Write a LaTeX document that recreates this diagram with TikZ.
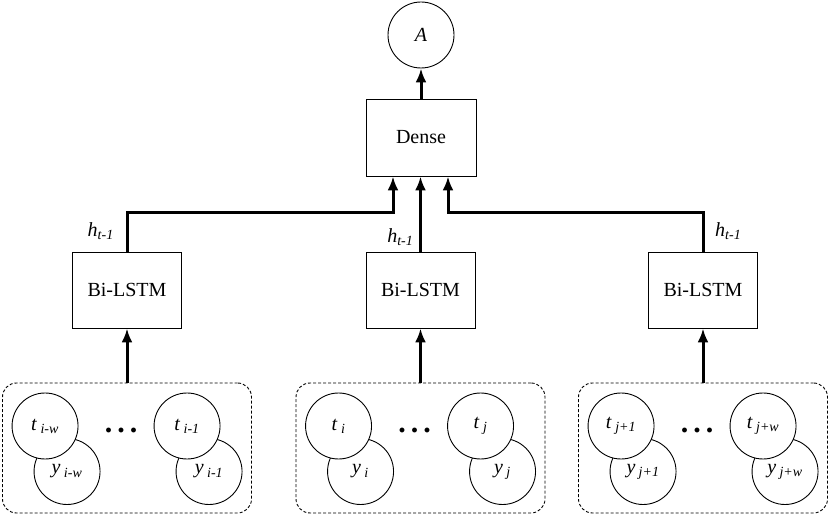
\documentclass[tikz,border=0pt]{standalone}
\usepackage{fontspec}
\setmainfont{Liberation Serif}
\usetikzlibrary{positioning, arrows.meta, calc}

\begin{document}
\begin{tikzpicture}[
            x=1pt, y=1pt,
            >={Latex[length=14pt, width=11pt]},
            unit/.style={circle, draw, line width=0.9pt, fill=white, minimum size=66pt, inner sep=0pt, font=\fontsize{20}{24}\selectfont},
            layer/.style={rectangle, draw, line width=0.9pt, minimum width=109pt, minimum height=76pt, font=\fontsize{20}{24}\selectfont},
            window/.style={rectangle, draw, line width=0.9pt, dash pattern=on 3pt off 2pt, rounded corners=14pt, minimum width=249pt, minimum height=130pt},
            conn/.style={->, line width=3pt},
            dots/.style={font=\fontsize{30}{30}\selectfont\bfseries, inner sep=0pt, anchor=base},
            hlabel/.style={font=\fontsize{20}{24}\selectfont\itshape, inner sep=0pt},
        ]
            \useasboundingbox (0,0) rectangle (831,515);

            % Draw the output node and the dense layer
            \node[unit] (A) at (421,480) {\textit{A}};
            \node[layer, minimum width=110pt, minimum height=77pt] (D) at (421,377.5) {Dense};
            \draw[conn] (D.north) -- (A.south);

            % Draw the input windows and the Bi-LSTM layers
            \foreach \name / \x in {1/127, 2/420.5, 3/703}
            {
                \node[window] (G-\name) at (\x,67) {};
                \node[layer] (L-\name) at (\x,225) {Bi-LSTM};
                \draw[conn] (G-\name.north) -- (L-\name.south);
            }

            % Draw the t/y units inside every window
            \foreach \name / \a / \b in {1/{i-w}/{i-1}, 2/i/j, 3/{j+1}/{j+w}}
            {
                \node[unit] (Y-\name-a) at ([shift={(65pt,-23.5pt)}]G-\name.west) {\textit{y}\,\textsubscript{\textit{\a}}};
                \node[unit] (T-\name-a) at ([shift={(43pt,22pt)}]G-\name.west) {\textit{t}\,\textsubscript{\textit{\a}}};
                \node[dots] (P-\name) at ([shift={(119pt,16pt)}]G-\name.west) {.\hspace{5pt}.\hspace{5pt}.};
                \node[unit] (Y-\name-b) at ([shift={(207pt,-23.5pt)}]G-\name.west) {\textit{y}\,\textsubscript{\textit{\b}}};
                \node[unit] (T-\name-b) at ([shift={(185pt,22pt)}]G-\name.west) {\textit{t}\,\textsubscript{\textit{\b}}};
            }

            % Connect every Bi-LSTM layer with the dense layer
            \coordinate (bend) at (0,302);
            \draw[conn] (L-1.north) |- ([xshift=-28pt]D.south |- bend) -- ([xshift=-28pt]D.south);
            \draw[conn] (L-2.north) -- (L-2.north |- D.south);
            \draw[conn] (L-3.north) |- ([xshift=27pt]D.south |- bend) -- ([xshift=27pt]D.south);

            % Hidden state labels
            \node[hlabel, anchor=east] (H-1) at ([shift={(-13pt,20pt)}]L-1.north) {h\textsubscript{t-1}};
            \node[hlabel, anchor=east] (H-2) at ([shift={(-7pt,14pt)}]L-2.north) {h\textsubscript{t-1}};
            \node[hlabel, anchor=west] (H-3) at ([shift={(12pt,20pt)}]L-3.north) {h\textsubscript{t-1}};
        \end{tikzpicture}
\end{document}
